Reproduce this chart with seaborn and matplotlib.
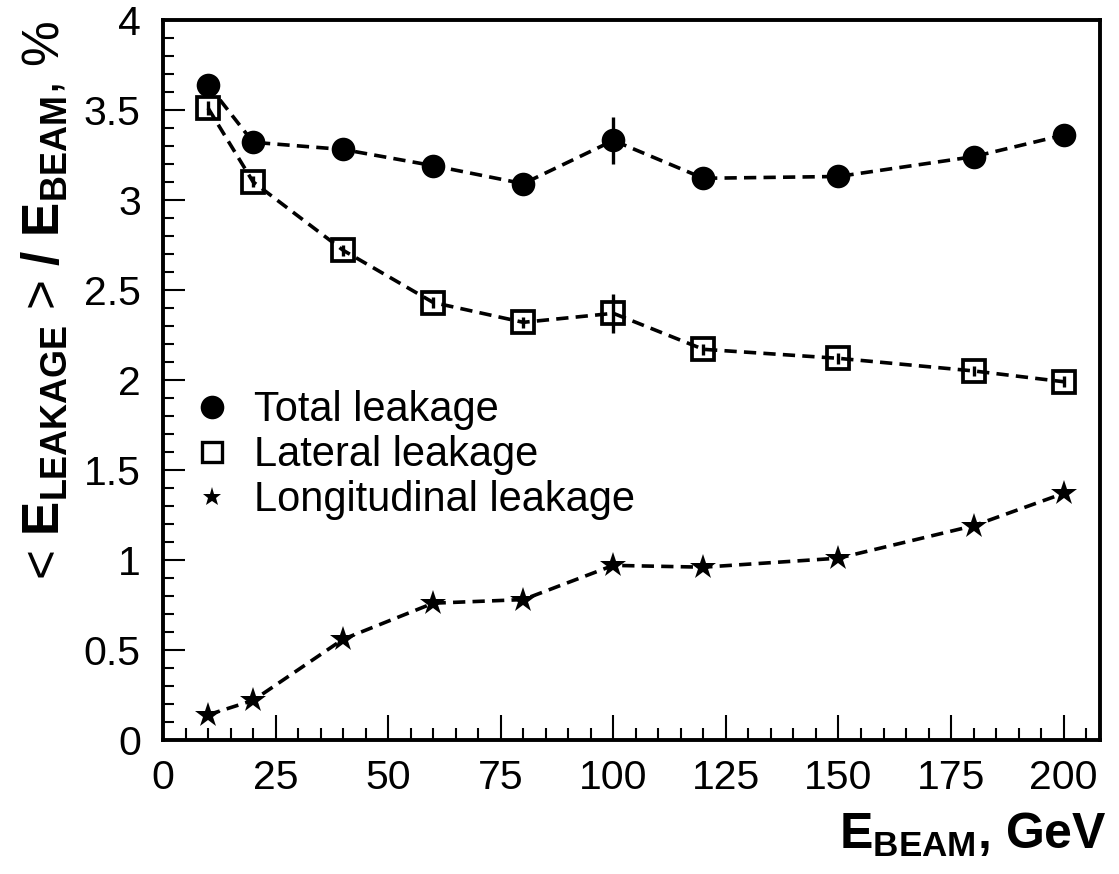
import matplotlib
matplotlib.use("Agg")
import matplotlib.pyplot as plt
import numpy as np
import pandas as pd
import seaborn as sns
from matplotlib.lines import Line2D
from matplotlib.ticker import MultipleLocator, FuncFormatter

# beam energies, GeV
energy = [10, 20, 40, 60, 80, 100, 120, 150, 180, 200]

# leakage fractions, %
total_leak = [3.64, 3.32, 3.28, 3.19, 3.09, 3.33, 3.12, 3.13, 3.24, 3.36]
total_err = [0.04, 0.03, 0.03, 0.03, 0.03, 0.13, 0.03, 0.03, 0.03, 0.03]

lateral_leak = [3.51, 3.10, 2.72, 2.43, 2.32, 2.37, 2.17, 2.12, 2.05, 1.99]
lateral_err = [0.04, 0.03, 0.03, 0.03, 0.03, 0.11, 0.03, 0.03, 0.03, 0.03]

longit_leak = [0.14, 0.22, 0.56, 0.76, 0.78, 0.97, 0.96, 1.01, 1.19, 1.37]

labels = ["Total leakage", "Lateral leakage", "Longitudinal leakage"]

sns.set_theme(style="ticks")
plt.rcParams["font.family"] = ["Liberation Sans", "DejaVu Sans"]
plt.rcParams["mathtext.fontset"] = "custom"
plt.rcParams["mathtext.rm"] = "Liberation Sans"
plt.rcParams["mathtext.bf"] = "Liberation Sans:bold"
plt.rcParams["mathtext.it"] = "Liberation Sans:italic"
for key in ["text.color", "axes.labelcolor", "xtick.color", "ytick.color",
            "axes.edgecolor"]:
    plt.rcParams[key] = "black"

df = pd.DataFrame({
    "energy": energy,
    "total": total_leak,
    "lateral": lateral_leak,
    "longit": longit_leak,
})

fig = plt.figure(figsize=(11.19, 8.74), dpi=100)
ax = fig.add_axes([0.1457, 0.1533, 0.837, 0.824])

dash = (0, (3.4, 2.0))
lw = 2.6

ax.errorbar(energy, total_leak, yerr=total_err, fmt="none", ecolor="black",
            elinewidth=2.4, capsize=0, zorder=2)
ax.errorbar(energy, lateral_leak, yerr=lateral_err, fmt="none", ecolor="black",
            elinewidth=2.4, capsize=0, zorder=2)

sns.lineplot(data=df, x="energy", y="total", ax=ax, color="black",
             linestyle=dash, linewidth=lw, marker="o", markersize=17,
             markeredgewidth=0, markerfacecolor="black", zorder=3)
sns.lineplot(data=df, x="energy", y="lateral", ax=ax, color="black",
             linestyle=dash, linewidth=lw, marker="s", markersize=16,
             markeredgewidth=2.7, markerfacecolor="none",
             markeredgecolor="black", zorder=3)
sns.lineplot(data=df, x="energy", y="longit", ax=ax, color="black",
             linestyle=dash, linewidth=lw, marker="*", markersize=19,
             markeredgewidth=0, markerfacecolor="black", zorder=3)

ax.set_xlim(0, 208)
ax.set_ylim(0, 4)

ax.xaxis.set_major_locator(MultipleLocator(25))
ax.xaxis.set_minor_locator(MultipleLocator(5))
ax.yaxis.set_major_locator(MultipleLocator(0.5))
ax.yaxis.set_minor_locator(MultipleLocator(0.1))
ax.yaxis.set_major_formatter(FuncFormatter(lambda v, p: f"{v:g}"))

ax.tick_params(axis="x", which="major", direction="in", length=18, width=1.5,
               labelsize=29.5, pad=14, top=False)
ax.tick_params(axis="x", which="minor", direction="in", length=9, width=1.5,
               top=False)
ax.tick_params(axis="y", which="major", direction="in", length=16, width=1.5,
               labelsize=29.5, pad=16, right=False)
ax.tick_params(axis="y", which="minor", direction="in", length=8, width=1.5,
               right=False)
for side in ["left", "bottom", "top", "right"]:
    ax.spines[side].set_visible(True)
    ax.spines[side].set_linewidth(2.8)

ax.set_xlabel(r"$\mathbf{E}_{\mathbf{BEAM}}$, GeV", fontsize=36,
              fontweight="bold", loc="right")
ax.xaxis.set_label_coords(1.0075, -0.098)
ax.set_ylabel(r"< $\mathbf{E}_{\mathbf{LEAKAGE}}$ > $\mathbf{/}$ $\mathbf{E}_{\mathbf{BEAM}}$, %",
              fontsize=37, loc="top")
ax.yaxis.set_label_coords(-0.1, 1.0)

handles = [
    Line2D([], [], linestyle="none", marker="o", markersize=17,
           markerfacecolor="black", markeredgewidth=0, color="black"),
    Line2D([], [], linestyle="none", marker="s", markersize=14,
           markerfacecolor="none", markeredgecolor="black", markeredgewidth=2.4),
    Line2D([], [], linestyle="none", marker="*", markersize=14,
           markerfacecolor="black", markeredgewidth=0, color="black"),
]
ax.legend(handles, labels, loc="upper left", bbox_to_anchor=(-0.006, 0.526),
          frameon=False, fontsize=30, handlelength=1.2, handletextpad=0.42,
          labelspacing=0.12, borderpad=0.2, labelcolor="black")

fig.savefig("out.png", dpi=100)
